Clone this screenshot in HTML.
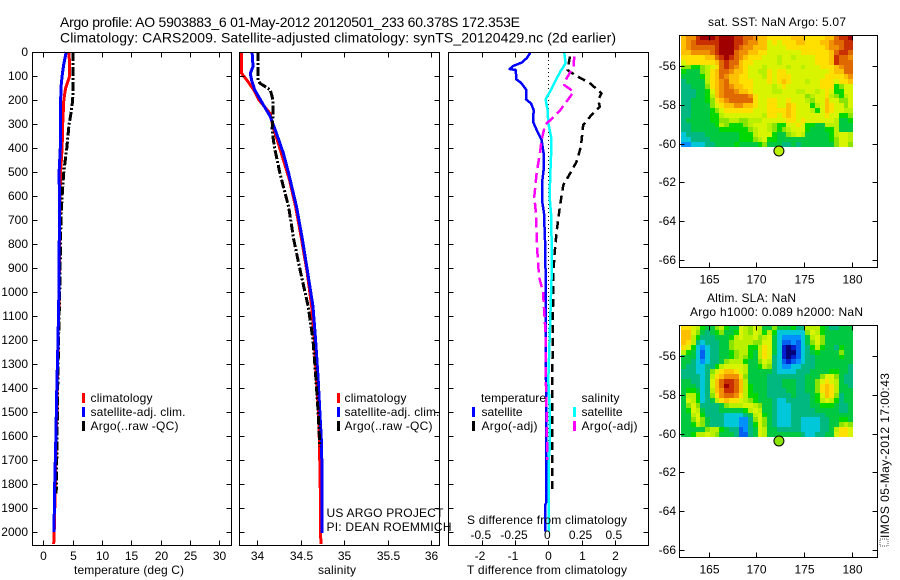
<!DOCTYPE html>
<html>
<head>
<meta charset="utf-8">
<title>Argo profile chart</title>
<style>
html,body{margin:0;padding:0;background:#fff;}
svg{display:block;}
text{font-family:"Liberation Sans",sans-serif;font-size:12px;fill:#000;}
</style>
</head>
<body>
<svg id="chart" xmlns="http://www.w3.org/2000/svg" width="900" height="580" viewBox="0 0 900 580">
<rect x="0" y="0" width="900" height="580" fill="#fff"/>
<text x="60" y="27" style="font-size:14px" textLength="460">Argo profile: AO 5903883_6 01-May-2012 20120501_233 60.378S 172.353E</text>
<text x="60" y="42.5" style="font-size:14px" textLength="556">Climatology: CARS2009. Satellite-adjusted climatology: synTS_20120429.nc (2d earlier)</text>

<g id="p1"></g>
<g id="p2"></g>
<g id="p3"></g>
<g id="p4"></g>
<g id="p5"></g>

<text x="74" y="574" textLength="110">temperature (deg C)</text>
<text x="318" y="574" textLength="38">salinity</text>
<text x="467" y="574" textLength="160">T difference from climatology</text>
<text x="467" y="524" textLength="160">S difference from climatology</text>

<g>
<rect x="82" y="393" width="3" height="10" fill="#f00"/>
<rect x="82" y="407" width="3" height="10" fill="#00f"/>
<rect x="82" y="421" width="3" height="10" fill="#000"/>
<text x="90.5" y="402" textLength="62">climatology</text>
<text x="90.5" y="416" textLength="95">satellite-adj. clim.</text>
<text x="90.5" y="430" textLength="88">Argo(..raw -QC)</text>
</g>
<g>
<rect x="337" y="393" width="3" height="10" fill="#f00"/>
<rect x="337" y="407" width="3" height="10" fill="#00f"/>
<rect x="337" y="421" width="3" height="10" fill="#000"/>
<text x="344.5" y="402" textLength="62">climatology</text>
<text x="344.5" y="416" textLength="95">satellite-adj. clim.</text>
<text x="344.5" y="430" textLength="88">Argo(..raw -QC)</text>
</g>
<g>
<text x="481" y="402" textLength="65">temperature</text>
<text x="581.5" y="402" textLength="38">salinity</text>
<rect x="472" y="407" width="3" height="10" fill="#00f"/>
<rect x="472" y="421" width="3" height="10" fill="#000"/>
<rect x="573" y="407" width="3" height="10" fill="#0ff"/>
<rect x="573" y="421" width="3" height="10" fill="#f0f"/>
<text x="481.5" y="416" textLength="41">satellite</text>
<text x="481.5" y="430" textLength="56">Argo(-adj)</text>
<text x="581.5" y="416" textLength="41">satellite</text>
<text x="581.5" y="430" textLength="56">Argo(-adj)</text>
</g>

<text x="326.5" y="517" textLength="117">US ARGO PROJECT</text>
<text x="326.5" y="531" textLength="125">PI: DEAN ROEMMICH</text>

<text x="708" y="26" textLength="138">sat. SST: NaN Argo: 5.07</text>
<text x="707" y="302" textLength="89">Altim. SLA: NaN</text>
<text x="690" y="316" textLength="173">Argo h1000: 0.089 h2000: NaN</text>

<rect x="880" y="539" width="8" height="7" fill="none" stroke="#555" stroke-width="1" stroke-dasharray="1 1" shape-rendering="crispEdges"/>
<text transform="translate(889,538) rotate(-90)" x="0" y="0" textLength="165">IMOS 05-May-2012 17:00:43</text>
</svg>

<script>
// ---- axis tick values ----
const depthTicks = [0,100,200,300,400,500,600,700,800,900,1000,1100,1200,1300,1400,1500,1600,1700,1800,1900,2000];
const tempTicks = [0,5,10,15,20,25,30];
const salTicks = [34,34.5,35,35.5,36];
const salTickLabels = ['34','34.5','35','35.5','36'];
const tDiffTicks = [-2,-1,0,1,2];
const sDiffTicks = [-0.5,-0.25,0,0.25,0.5];
const sDiffTickLabels = ['-0.5','-0.25','0','0.25','0.5'];
const lonTicks = [165,170,175,180];
const latTicks = [56,58,60,62,64,66];

// ---- temperature profiles ----
const tempClimDepth = [0,100,120,150,200,300,400,500,600,700,1000,1200,1400,1500,1600,1800,2000,2050];
const tempClimValue = [4.4,4.5,4.2,3.8,3.5,3.3,3.2,2.95,2.85,2.8,2.7,2.5,2.35,2.3,2.2,2.05,1.85,1.77];
const tempSatDepth = [0,50,100,150,300,400,500,600,700,1000,1200,1400,1600,1800,2000];
const tempSatValue = [3.9,3.5,3.2,3.0,2.9,2.9,2.7,2.75,2.75,2.65,2.5,2.3,2.15,1.95,1.82];
const tempArgoDepth = [0,100,200,250,300,400,500,600,700,1000,1200,1400,1600,1840];
const tempArgoValue = [5.1,5.1,5.0,4.75,4.4,4.0,3.5,3.2,3.0,2.8,2.6,2.45,2.35,2.2];

// ---- salinity profiles ----
const salClimDepth = [0,89,117,158,200,256,311,367,450,533,644,783,922,1061,1200,1367,1505,1644,1850,2050];
const salClimValue = [33.82,33.82,33.88,33.96,34.02,34.146,34.18,34.23,34.3,34.37,34.44,34.51,34.575,34.625,34.655,34.68,34.705,34.715,34.725,34.73];
const salSatDepth = [0,61,89,117,158,214,269,338,422,505,644,783,922,1061,1200,1367,1505,1644,2005];
const salSatValue = [33.94,33.95,33.92,33.935,33.97,34.06,34.15,34.22,34.3,34.36,34.45,34.52,34.58,34.64,34.67,34.7,34.72,34.74,34.745];
const salArgoDepth = [0,117,130,158,200,256,325,394,505,644,783,922,1061,1200,1367,1505,1644];
const salArgoValue = [34.01,34.01,34.03,34.15,34.18,34.18,34.17,34.195,34.26,34.36,34.42,34.5,34.585,34.64,34.675,34.7,34.72];

// ---- difference profiles ----
const dTempSatDepth = [3,26,44,58,71,75,114,128,158,197,214,242,290,325,367,422,478,547,617,672,783,922,1367,1880,1890,1998];
const dTempSatValue = [-0.54,-0.65,-0.80,-1.05,-1.16,-0.98,-0.96,-0.82,-0.66,-0.67,-0.52,-0.44,-0.46,-0.35,-0.20,-0.14,-0.13,-0.19,-0.19,-0.13,-0.10,-0.08,-0.07,-0.07,-0.10,-0.10];
const dTempArgoDepth = [19,75,96,130,172,200,228,262,304,394,457,519,554,644,749,853,936,1367,1839];
const dTempArgoValue = [0.65,0.58,0.80,1.25,1.6,1.5,1.55,1.3,1.05,0.98,0.85,0.6,0.45,0.35,0.25,0.18,0.15,0.12,0.12];
const dSalSatDepth = [3,47,82,124,158,197,242,297,353,436,506,603,672,783,936,1367,1500,1644,1700,1998];
const dSalSatValue = [0.12,0.13,0.09,0.05,0.02,-0.02,-0.005,0,0.02,0.02,0.015,0.01,0.02,0.025,0.025,0,0.012,0.012,0.002,0.002];
const dSalArgoDepth = [19,61,117,138,165,186,242,281,304,367,422,506,603,686,783,936,1000,1200,1367,1644,1700];
const dSalArgoValue = [0.195,0.19,0.13,0.12,0.19,0.165,0.09,0.02,-0.025,-0.05,-0.063,-0.088,-0.105,-0.09,-0.088,-0.07,-0.04,-0.017,-0.018,-0.008,-0.008];

// ---- map grids: colour-level values, 0.5 deg lon by 0.25 deg lat ----
const sstGrid = [
[9,10,10,12,13,13,13,12,13,13,13,12,12,11,11,10,9,9,8,8,8,8,8,9,9,9,8,8,8,8,9,9,11,12,12,13],
[9,10,11,12,12,12,12,12,13,13,13,12,12,11,10,10,9,9,7,8,7,8,8,8,9,9,8,8,8,9,9,10,11,11,12,12],
[9,10,11,11,11,11,11,12,13,13,13,12,11,10,10,9,9,9,7,7,7,7,8,8,8,8,8,8,8,8,9,10,10,11,12,12],
[9,9,10,10,10,10,11,12,13,13,13,11,10,10,9,9,8,8,7,7,7,7,7,7,7,8,8,8,8,8,8,9,11,12,12,11],
[8,8,8,8,8,9,9,11,12,13,12,11,10,9,8,8,8,7,7,7,6,7,7,6,7,7,7,7,8,8,8,9,12,11,11,10],
[7,8,8,8,8,8,8,9,11,12,11,11,9,8,8,7,7,7,7,7,6,7,7,7,7,7,7,7,8,8,8,9,12,11,11,11],
[5,5,4,4,5,6,7,8,11,12,11,10,9,8,7,7,7,6,7,7,7,7,6,7,7,6,7,7,7,8,8,8,9,10,11,11],
[4,3,3,3,5,6,8,9,11,11,10,9,9,8,7,7,6,6,8,7,8,8,7,7,7,7,7,7,7,7,7,8,9,9,11,11],
[3,3,3,3,4,6,8,9,11,10,9,9,8,8,7,7,7,6,8,7,8,8,8,7,7,7,7,7,7,7,8,8,8,8,9,10],
[2,3,3,3,3,6,8,9,10,11,9,9,8,8,8,7,7,7,8,7,8,9,8,7,7,7,6,7,7,8,8,8,7,8,8,9],
[2,2,3,3,3,5,8,9,10,11,10,9,9,8,8,7,7,7,7,6,7,8,7,7,7,7,7,7,7,8,8,8,4,5,7,7],
[2,2,2,3,3,4,7,9,10,11,11,10,9,9,8,7,7,7,7,6,6,7,7,7,6,6,7,7,6,7,8,7,4,4,7,7],
[2,2,2,3,3,4,6,9,10,11,11,11,11,11,10,8,7,7,7,7,7,7,7,7,7,7,5,6,7,7,8,6,5,4,6,7],
[2,2,3,3,3,4,5,8,9,10,11,11,11,11,11,8,7,7,8,8,7,7,8,7,7,7,6,5,7,7,9,7,7,5,5,7],
[2,2,3,3,3,3,5,7,8,9,9,10,10,9,9,8,7,7,8,8,7,7,9,8,7,7,7,4,6,7,9,8,7,7,5,7],
[2,2,3,3,3,3,4,5,7,8,8,8,8,8,8,7,7,7,8,8,8,8,9,8,7,7,7,6,4,7,9,8,7,7,6,6],
[2,2,3,3,3,3,4,4,6,7,7,7,7,7,7,7,7,6,8,8,7,8,9,8,7,7,7,7,7,7,8,7,7,4,4,5],
[2,3,3,3,3,3,4,4,5,5,6,6,5,5,6,6,6,7,7,7,7,7,8,8,7,8,7,7,7,7,7,7,6,3,3,4],
[2,2,3,3,3,3,3,4,6,5,4,4,4,5,6,7,7,7,6,5,4,4,7,7,8,7,4,4,3,3,6,6,6,3,3,3],
[2,2,3,3,3,3,3,3,4,4,4,4,4,4,5,6,7,7,6,5,4,5,6,7,7,7,4,3,3,3,4,4,6,3,3,3],
[1,2,2,2,2,3,3,3,3,3,3,3,4,4,4,6,7,7,7,4,3,3,5,6,7,6,3,3,3,3,3,4,6,7,7,6],
[1,1,2,2,2,2,3,3,3,3,3,3,4,4,4,5,6,7,4,4,3,3,3,3,3,3,3,3,3,3,3,4,5,7,7,6],
[0,0,1,1,1,2,2,3,3,3,3,4,3,3,3,3,4,5,3,3,3,2,2,3,2,3,3,3,3,3,3,3,5,7,7,5]
];
const slaGrid = [
[8,8,7,6,4,3,3,5,6,4,3,3,7,6,5,7,6,3,3,5,3,3,3,4,2,2,6,6,6,4,3,2,2,3,3,3],
[9,9,7,5,3,2,3,4,5,3,3,4,7,6,5,7,6,4,6,4,1,1,1,1,1,1,5,7,6,4,3,3,3,3,3,3],
[9,9,6,4,2,2,2,3,3,3,4,6,7,6,6,7,5,6,7,3,1,0,0,0,0,1,3,6,7,5,3,3,3,3,3,3],
[9,8,6,2,1,2,2,2,3,3,5,6,6,6,6,5,5,7,7,3,1,-1,-1,0,-1,1,3,5,7,5,3,3,3,3,3,3],
[8,7,4,1,0,1,2,2,3,3,5,6,6,6,4,4,6,8,7,3,1,-2,-3,-2,-1,1,2,4,6,4,3,3,2,4,3,3],
[6,4,3,1,-1,1,2,2,3,3,4,5,6,6,4,3,6,8,7,3,1,-2,-3,-3,-1,1,2,3,4,3,3,3,3,5,3,3],
[3,3,3,1,-1,1,2,2,3,3,4,5,6,5,4,3,6,8,7,2,1,-2,-3,-2,-1,1,2,2,3,3,3,3,3,4,3,3],
[3,3,2,1,0,1,2,2,3,5,6,6,6,4,3,3,5,7,6,2,1,-1,-2,-1,0,1,2,2,3,3,3,3,3,3,3,3],
[3,2,2,1,1,2,2,4,6,7,7,7,7,6,3,3,4,6,5,2,1,0,0,1,1,2,2,2,3,3,3,3,3,3,3,2],
[2,2,2,1,1,2,5,7,8,9,9,8,7,6,3,3,3,3,3,2,1,1,1,1,2,2,2,3,3,3,3,4,4,3,3,2],
[2,2,2,2,1,2,6,8,9,10,10,10,8,5,3,3,3,3,2,2,2,2,2,2,2,2,3,3,3,5,7,7,5,3,2,2],
[3,3,2,2,1,2,7,9,11,12,12,11,9,6,3,3,3,3,2,2,2,3,3,3,2,2,3,3,5,7,8,7,6,3,2,2],
[3,3,3,2,1,2,7,9,11,13,12,11,9,6,4,3,3,3,2,2,2,3,3,3,2,2,3,3,5,8,9,8,6,3,3,2],
[3,4,4,3,1,2,6,9,10,12,12,11,9,6,4,3,3,3,2,2,2,2,3,3,2,2,3,3,5,8,9,8,6,3,3,3],
[3,6,6,4,1,2,5,8,10,11,11,10,8,6,4,4,3,3,2,2,2,2,2,3,2,2,2,3,4,7,9,8,5,2,3,3],
[3,7,6,4,1,2,3,6,8,9,8,8,7,6,5,4,3,3,3,2,1,1,2,2,2,2,2,3,4,6,7,6,4,2,3,3],
[3,5,7,5,2,2,2,2,3,5,6,6,6,7,7,6,5,3,3,2,1,1,1,2,2,2,2,3,3,4,4,4,3,2,2,3],
[3,4,7,6,3,2,2,2,3,3,3,3,3,4,6,7,6,3,3,2,1,1,1,2,2,2,2,2,3,3,3,3,3,2,2,3],
[3,3,6,7,4,2,2,2,2,1,1,1,1,2,3,6,7,4,3,2,1,1,1,2,2,2,2,2,2,2,3,3,3,3,3,3],
[3,3,5,7,5,3,2,2,2,1,1,1,0,0,2,5,7,5,3,2,1,1,1,2,2,1,1,1,1,2,2,3,3,4,4,3],
[3,3,4,6,5,3,2,2,2,1,1,1,0,0,2,4,7,5,3,2,1,1,1,2,2,1,1,1,1,2,2,3,3,5,6,5],
[3,3,3,3,3,5,6,6,4,3,2,2,-1,0,2,3,7,6,3,3,2,2,2,2,2,1,1,1,1,2,2,3,6,8,8,7],
[3,3,4,6,6,7,6,5,3,3,3,2,-1,-1,2,3,7,6,3,3,3,3,3,3,3,2,1,1,2,2,3,3,7,8,8,7]
];
const argoLon = 172.353;
const argoLat = 60.378;
const sstArgoLevel = 6;
const slaArgoLevel = 5;

const NS = 'http://www.w3.org/2000/svg';
const levelColors = ['#00007a','#0020d0','#0060f0','#0090ff','#00c8d8','#00b880','#00c840','#00d800','#88e400','#b8f000','#d8f400','#ffe000','#ffc000','#f09000','#e06800','#c83000','#a00000'];

function levelColor(v){
  const i = Math.max(0, Math.min(levelColors.length - 1, Math.round(v) + 3));
  return levelColors[i];
}
function depthY(d){ return 52 + 0.24 * d; }
function tempX(v){ return 43.3 + 5.87 * v; }
function salX(v){ return 257.3 + 87 * (v - 34); }
function tDiffX(v){ return 548.3 + 33.25 * v; }
function sDiffX(v){ return 548.3 + 133 * v; }
function lonX(v){ return 708.7 + 9.55 * (v - 165); }
function latY(v, top){ return top + 30.8 + 19.34 * (v - 56); }

function make(tag, attrs){
  const el = document.createElementNS(NS, tag);
  for (const k in attrs) el.setAttribute(k, attrs[k]);
  return el;
}
function addTick(parent, x1, y1, x2, y2){
  const el = make('line', {x1:x1, y1:y1, x2:x2, y2:y2, stroke:'#000', 'stroke-width':1, 'shape-rendering':'crispEdges'});
  
  
  parent.appendChild(el);
}
function addLabel(parent, x, y, str, anchor){
  const el = make('text', {x:x, y:y, 'text-anchor':anchor});
  
  
  el.textContent = str;
  parent.appendChild(el);
}
function addFrame(parent, x0, y0, x1, y1){
  const el = make('rect', {x:x0, y:y0, width:x1-x0, height:y1-y0, fill:'none', stroke:'#000', 'stroke-width':1, 'shape-rendering':'crispEdges'});
  
  
  parent.appendChild(el);
}
function addSeries(parent, label, depths, values, xFn, color, dash, width){
  const pts = depths.map(function(d, i){ return xFn(values[i]).toFixed(1) + ',' + depthY(d).toFixed(1); }).join(' ');
  const el = make('polyline', {points:pts, fill:'none', stroke:color, 'stroke-width':width || 3, 'shape-rendering':'crispEdges', 'stroke-linejoin':'round'});
  if (dash) el.setAttribute('stroke-dasharray', dash);
  
  
  parent.appendChild(el);
}
function depthAxis(parent, x0, x1, withLabels){
  depthTicks.forEach(function(d){
    const y = Math.round(depthY(d)) + 0.5;
    addTick(parent, x0, y, x0 + 5, y);
    addTick(parent, x1 - 5, y, x1, y);
    if (withLabels) addLabel(parent, 28, y + 3.5, String(d), 'end');
  });
}
function xAxis(parent, ticks, xFn, labels, labelY, negShift){
  ticks.forEach(function(t, i){
    const x = Math.round(xFn(t)) + 0.5;
    addTick(parent, x, 52.5, x, 57.5);
    addTick(parent, x, 540.5, x, 545.5);
    if (labels) addLabel(parent, x - (t < 0 ? negShift : 0), labelY, labels[i], 'middle');
  });
}

// temperature panel
const p1 = document.getElementById('p1');
addSeries(p1, 'temperature-climatology-line', tempClimDepth, tempClimValue, tempX, '#f00');
addSeries(p1, 'temperature-argo-line', tempArgoDepth, tempArgoValue, tempX, '#000', '9 2 2 2');
addSeries(p1, 'temperature-satellite-line', tempSatDepth, tempSatValue, tempX, '#00f');
addFrame(p1, 32.5, 52.5, 231.5, 545.5);
depthAxis(p1, 32.5, 231.5, true);
xAxis(p1, tempTicks, tempX, tempTicks.map(String), 560, 0);

// salinity panel
const p2 = document.getElementById('p2');
addSeries(p2, 'salinity-climatology-line', salClimDepth, salClimValue, salX, '#f00');
addSeries(p2, 'salinity-satellite-line', salSatDepth, salSatValue, salX, '#00f');
addSeries(p2, 'salinity-argo-line', salArgoDepth, salArgoValue, salX, '#000', '9 2 2 2');
addFrame(p2, 239.5, 52.5, 439.5, 545.5);
depthAxis(p2, 239.5, 439.5, false);
xAxis(p2, salTicks, salX, salTickLabels, 560, 0);

// difference panel
const p3 = document.getElementById('p3');
const zeroLine = make('line', {x1:548.5, y1:depthY(0), x2:548.5, y2:depthY(2000), stroke:'#000', 'stroke-width':1, 'stroke-dasharray':'1 3', 'shape-rendering':'crispEdges'});


p3.appendChild(zeroLine);
addSeries(p3, 't-diff-satellite-line', dTempSatDepth, dTempSatValue, tDiffX, '#00f', null, 2.5);
addSeries(p3, 't-diff-argo-line', dTempArgoDepth, dTempArgoValue, tDiffX, '#000', '8 5', 2.5);
addSeries(p3, 's-diff-satellite-line', dSalSatDepth, dSalSatValue, sDiffX, '#0ff', null, 2.5);
addSeries(p3, 's-diff-argo-line', dSalArgoDepth, dSalArgoValue, sDiffX, '#f0f', '10 5', 2.5);
addFrame(p3, 448.5, 52.5, 648.5, 545.5);
depthAxis(p3, 448.5, 648.5, false);
xAxis(p3, tDiffTicks, tDiffX, tDiffTicks.map(String), 560, 2.5);
sDiffTicks.forEach(function(t, i){
  addLabel(p3, sDiffX(t) - 1, 539, sDiffTickLabels[i], 'middle');
});

// maps
function drawMap(parent, grid, top, bottom, argoLevel){
  const cellLon = 0.5;
  const cellLat = 0.25;
  const lon0 = 162.13;
  const lat0 = 56 - 30.8 / 19.34;
  grid.forEach(function(row, r){
    row.forEach(function(v, c){
      const xa = Math.round(lonX(lon0 + c * cellLon));
      const xb = Math.round(lonX(lon0 + (c + 1) * cellLon));
      const ya = Math.round(latY(lat0 + r * cellLat, top));
      const yb = Math.round(latY(lat0 + (r + 1) * cellLat, top));
      const el = make('rect', {x:xa, y:ya, width:xb-xa, height:yb-ya, fill:levelColor(v), 'shape-rendering':'crispEdges'});
      
      
      parent.appendChild(el);
    });
  });
  const dot = make('circle', {cx:lonX(argoLon), cy:latY(argoLat, top), r:5, fill:levelColor(argoLevel), stroke:'#000', 'stroke-width':1});
  
  
  parent.appendChild(dot);
  addFrame(parent, 679.5, top, 877.5, bottom);
  lonTicks.forEach(function(t){
    const x = Math.round(lonX(t)) + 0.5;
    addTick(parent, x, top, x, top + 5);
    addTick(parent, x, bottom - 5, x, bottom);
    addLabel(parent, x, bottom + 16, String(t), 'middle');
  });
  latTicks.forEach(function(t){
    const y = Math.round(latY(t, top)) + 0.5;
    addTick(parent, 679.5, y, 684.5, y);
    addTick(parent, 872.5, y, 877.5, y);
    addLabel(parent, 676, y + 3.5, '-' + t, 'end');
  });
}
drawMap(document.getElementById('p4'), sstGrid, 35.5, 267.5, sstArgoLevel);
drawMap(document.getElementById('p5'), slaGrid, 325.5, 557.5, slaArgoLevel);
</script>
</body>
</html>
